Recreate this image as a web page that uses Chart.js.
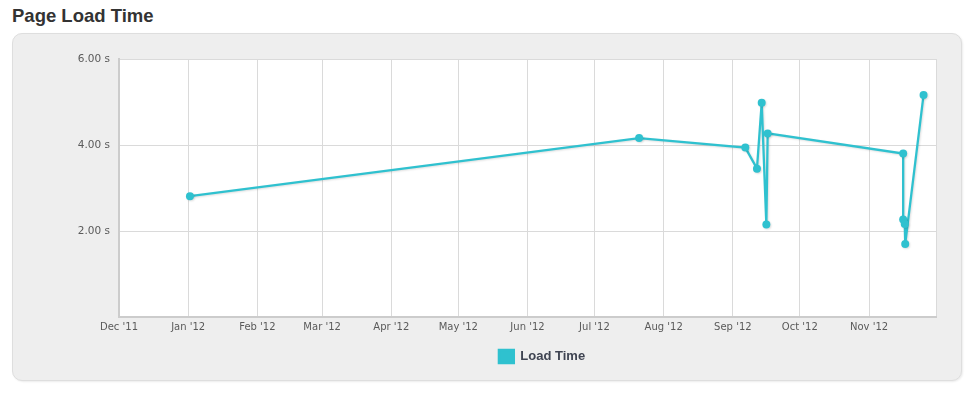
<!DOCTYPE html>
<html>
<head>
<meta charset="utf-8">
<title>Page Load Time</title>
<script src="https://cdn.jsdelivr.net/npm/chart.js@4.4.1/dist/chart.umd.min.js"></script>
<style>
  html, body { margin: 0; padding: 0; background: #fff; width: 980px; height: 398px; overflow: hidden; }
  h2 {
    position: absolute; left: 12px; top: 5px; margin: 0;
    font: bold 18.5px "Liberation Sans", Arial, sans-serif; color: #333;
  }
  .box {
    position: absolute; left: 12px; top: 33px; width: 948px; height: 346px;
    background: #eeeeee; border: 1px solid #dedede; border-radius: 10px;
    box-shadow: 1px 1px 2px rgba(0,0,0,0.08);
  }
  #wrap { position: absolute; left: 12px; top: 33px; width: 950px; height: 348px; }
</style>
</head>
<body>
<h2>Page Load Time</h2>
<div class="box"></div>
<div id="wrap"><canvas id="loadChart" width="950" height="348"></canvas></div>
<script>
const loadDates = [
  "2012-01-01 19:00", "2012-07-21 00:00", "2012-09-06 14:00", "2012-09-11 19:00",
  "2012-09-13 22:00", "2012-09-16 00:00", "2012-09-16 14:00", "2012-11-16 07:00",
  "2012-11-16 07:00", "2012-11-17 00:00", "2012-11-17 05:00", "2012-11-25 10:00"
];
const loadTimes = [2.81, 4.16, 3.94, 3.45, 4.98, 2.15, 4.27, 3.80, 2.27, 2.16, 1.70, 5.16];

const monthTicks = [
  "2011-12-01", "2012-01-01", "2012-02-01", "2012-03-01", "2012-04-01", "2012-05-01",
  "2012-06-01", "2012-07-01", "2012-08-01", "2012-09-01", "2012-10-01", "2012-11-01", "2012-12-01"
];
const monthLabels = [
  "Dec '11", "Jan '12", "Feb '12", "Mar '12", "Apr '12", "May '12",
  "Jun '12", "Jul '12", "Aug '12", "Sep '12", "Oct '12", "Nov '12", ""
];
const yTicks = [0, 2, 4, 6];

const teal = "#2fc1cf";

// no date adapter available, so times are turned into UTC milliseconds
function toTs(s) {
  const [d, t] = s.split(" ");
  const [y, m, day] = d.split("-").map(Number);
  const [hh, mm] = (t || "00:00").split(":").map(Number);
  return Date.UTC(y, m - 1, day, hh, mm);
}

const tickTs = monthTicks.map(toTs);
const points = loadDates.map((d, i) => ({ x: toTs(d), y: loadTimes[i] }));

const plotBg = {
  id: "plotBg",
  beforeDraw(chart) {
    const { ctx, chartArea: a } = chart;
    ctx.save();
    ctx.fillStyle = "#ffffff";
    ctx.fillRect(a.left, a.top, a.right - a.left, a.bottom - a.top);
    ctx.restore();
  }
};

const lineShadow = {
  id: "lineShadow",
  beforeDatasetDraw(chart) {
    const ctx = chart.ctx;
    ctx.save();
    ctx.shadowColor = "rgba(0,0,0,0.13)";
    ctx.shadowOffsetX = 1;
    ctx.shadowOffsetY = 1;
    ctx.shadowBlur = 2;
  },
  afterDatasetDraw(chart) {
    chart.ctx.restore();
  }
};

// the legend sits right of centre in the original
const legendShift = {
  id: "legendShift",
  afterLayout(chart) {
    chart.legend.left += 68;
    chart.legend.right += 68;
  }
};

new Chart(document.getElementById("loadChart"), {
  type: "line",
  data: {
    datasets: [{
      label: "Load Time",
      data: points,
      borderColor: teal,
      backgroundColor: teal,
      borderWidth: 2.3,
      pointRadius: 4,
      pointBackgroundColor: teal,
      pointBorderWidth: 0,
      tension: 0,
      fill: false
    }]
  },
  options: {
    responsive: false,
    animation: false,
    maintainAspectRatio: false,
    layout: { padding: { top: 26, right: 26, bottom: 8, left: 0 } },
    plugins: {
      legend: {
        position: "bottom",
        labels: {
          boxWidth: 15,
          boxHeight: 13,
          padding: 11,
          color: "#3f4452",
          font: { family: "'Liberation Sans', Arial, sans-serif", size: 13, weight: "bold" }
        }
      },
      tooltip: { enabled: false }
    },
    scales: {
      x: {
        type: "linear",
        min: tickTs[0],
        max: tickTs[tickTs.length - 1],
        afterBuildTicks(scale) {
          scale.ticks = tickTs.map(v => ({ value: v }));
        },
        afterFit(scale) { scale.height = 22; },
        ticks: {
          autoSkip: false,
          maxRotation: 0,
          padding: 4,
          color: "#5a5a5a",
          font: { family: "'DejaVu Sans', Verdana, sans-serif", size: 10 },
          callback(v, i) { return monthLabels[i]; }
        },
        grid: { color: "#dadada", lineWidth: 1, drawTicks: false },
        border: { color: "#cccccc", width: 2 }
      },
      y: {
        min: 0,
        max: 6,
        afterBuildTicks(scale) {
          scale.ticks = yTicks.map(v => ({ value: v }));
        },
        afterFit(scale) { scale.width = 107; },
        ticks: {
          padding: 9,
          color: "#5a5a5a",
          font: { family: "'DejaVu Sans', Verdana, sans-serif", size: 10.5 },
          callback(v) { return v === 0 ? "" : v.toFixed(2) + " s"; }
        },
        grid: { color: "#dadada", lineWidth: 1, drawTicks: false },
        border: { color: "#cccccc", width: 2 }
      }
    }
  },
  plugins: [plotBg, lineShadow, legendShift]
});
</script>
</body>
</html>
